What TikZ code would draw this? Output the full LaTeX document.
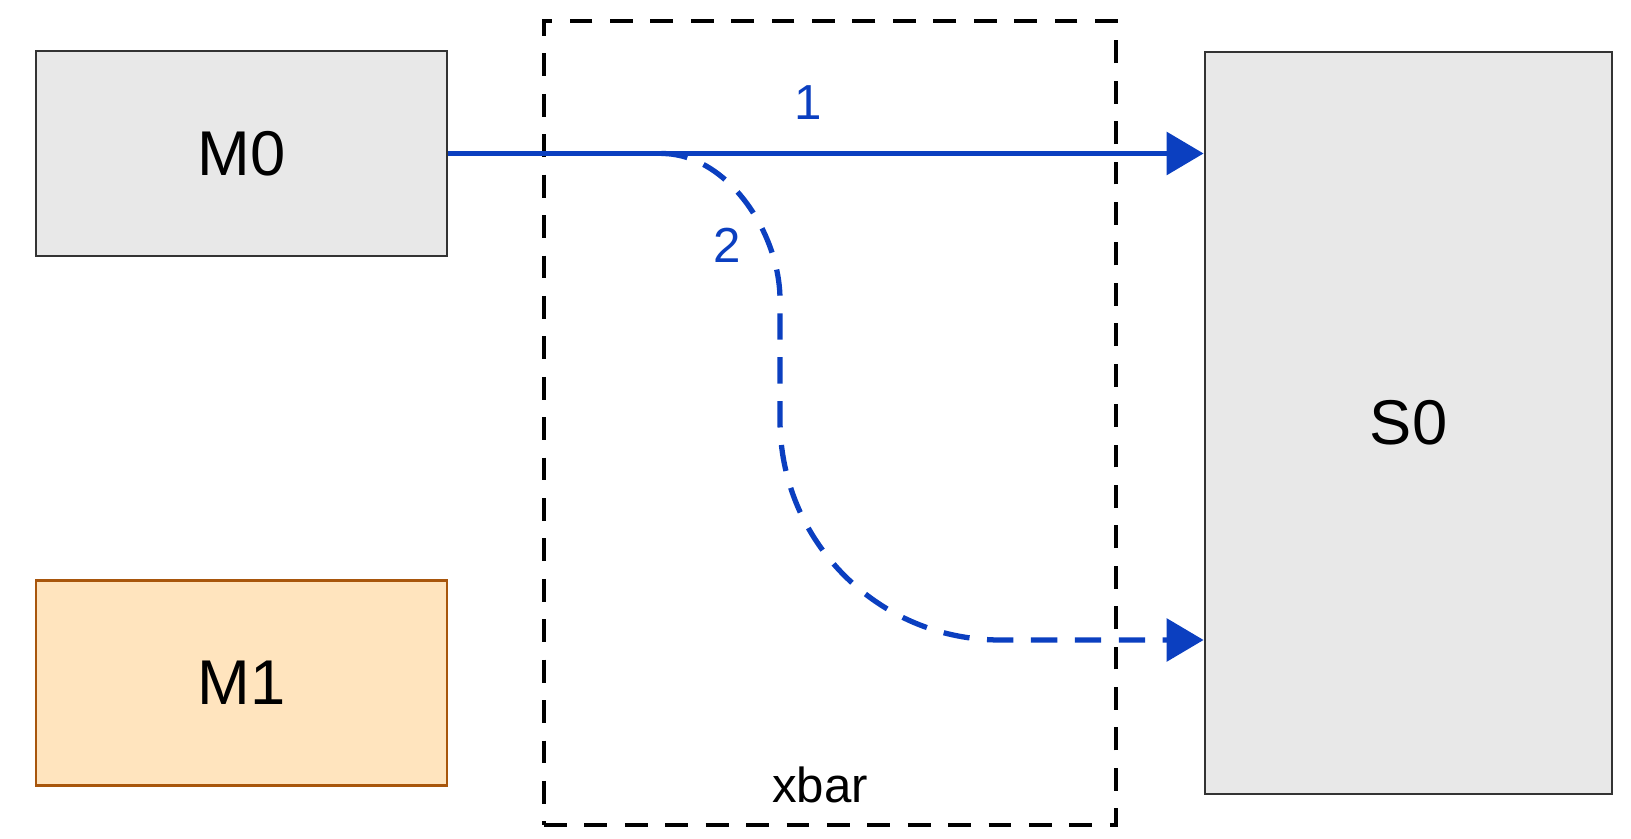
\documentclass[tikz,border=0pt]{standalone}
\usepackage{fontspec}
\setmainfont{Liberation Sans}
\usetikzlibrary{positioning,arrows.meta}
\definecolor{boxgray}{HTML}{E8E8E8}
\definecolor{boxline}{HTML}{333333}
\definecolor{idlefill}{HTML}{FFE4BE}
\definecolor{idleline}{HTML}{A8560C}
\definecolor{routeblue}{HTML}{0B3FC0}
\tikzset{
	%Bus style
	master/.style={
		draw=boxline,
		fill=boxgray,
		rectangle,
		line width=1.6pt,
		minimum width=8.22cm,
		minimum height=4.1cm,
		align=center,
		font=\fontsize{36}{40}\selectfont,
	},
	idleMaster/.style={
		master,
		draw=idleline,
		fill=idlefill,
	},
	slave/.style={
		master,
		minimum width=8.14cm,
		minimum height=14.84cm,
	},
	crossbar/.style={ % dashed frame of the switch
		draw=black,
		rectangle,
		line width=2.6pt,
		dash pattern=on 13pt off 10pt,
		minimum width=11.44cm,
		minimum height=16.08cm,
	},
	route/.style={
		routeblue,
		line width=3pt,
		-{Triangle[length=21pt,width=24pt]},
	},
	routeName/.style={
		text=routeblue,
		font=\fontsize{28}{32}\selectfont,
	},
	frameName/.style={
		font=\fontsize{28}{32}\selectfont,
	}
}
\begin{document}
\begin{tikzpicture}
	\useasboundingbox (0,0) rectangle (32.62,16.78);

	\node(M0) at (4.83,13.71) [master] {M0};
	\node [below=6.43cm of M0, idleMaster] (M1) {M1};
	\node(S0) at (28.17,8.32) [slave] {S0};
	\node(xbar) at (16.6,8.32) [crossbar] {};
	\node(xbarName) at (16.4,1.08) [frameName] {xbar};

	\coordinate (fork) at ([xshift=4.26cm]M0.east);
	\coordinate (entry) at ([yshift=-4.34cm]S0.west);

	\draw[route] (M0.east) -- (M0.east -| S0.west);
	\draw[route, dash pattern=on 15pt off 10pt] (fork) .. controls ([xshift=1.32cm]fork) and (15.6,12.12) .. (15.6,10.78) -- (15.6,8.38) .. controls (15.6,5.95) and (17.57,3.98) .. (20,3.98) -- (entry);

	\node(one) at (16.16,14.72) [routeName] {1};
	\node(two) at (14.54,11.88) [routeName] {2};
\end{tikzpicture}
\end{document}
